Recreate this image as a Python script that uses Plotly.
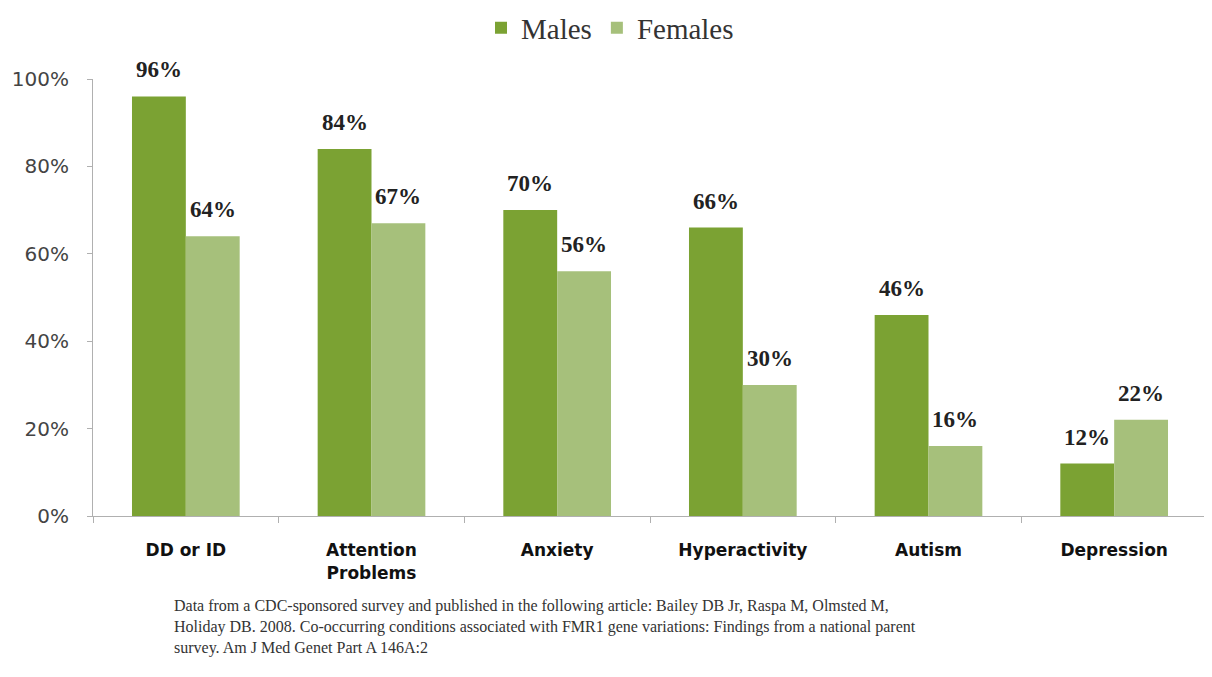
import plotly.graph_objects as go

categories = ["DD or ID", "Attention<br>Problems", "Anxiety", "Hyperactivity", "Autism", "Depression"]
males = [96, 84, 70, 66, 46, 12]
females = [64, 67, 56, 30, 16, 22]
series_names = ["Males", "Females"]
y_ticks = [0, 20, 40, 60, 80, 100]
footnote = ("Data from a CDC-sponsored survey and published in the following article: Bailey DB Jr, Raspa M, Olmsted M,<br>"
            "Holiday DB. 2008. Co-occurring conditions associated with FMR1 gene variations: Findings from a national parent<br>"
            "survey. Am J Med Genet Part A 146A:2")

# page body has an 8px default margin, so the figure is sized/offset accordingly
OFF = 8
W, H = 1212 - OFF, 677 - OFF
ML, MT = 93 - OFF, 79 - OFF
MR = W - (1207 - OFF)
MB = H - (516 - OFF)
BARGAP = 0.42
male_color = "#7ba233"
female_color = "#a6c07b"

plot_w = W - ML - MR
plot_h = H - MT - MB

fig = go.Figure()
fig.add_trace(go.Bar(x=categories, y=males, name=series_names[0],
                     marker=dict(color=male_color, line=dict(width=0))))
fig.add_trace(go.Bar(x=categories, y=females, name=series_names[1],
                     marker=dict(color=female_color, line=dict(width=0))))

# value labels above bars, placed in data coordinates with pixel offsets
cat_w = plot_w / len(categories)
bar_w = cat_w * (1 - BARGAP) / 2
for vals, sign in ((males, -1), (females, 1)):
    for i, v in enumerate(vals):
        fig.add_annotation(
            x=categories[i], y=v, xref="x", yref="y",
            text=f"<b>{v}%</b>", showarrow=False,
            xanchor="center", yanchor="bottom",
            xshift=sign * bar_w / 2, yshift=12,
            font=dict(family="Liberation Serif", size=23, color="#222222"),
        )

fig.update_layout(
    width=W, height=H,
    paper_bgcolor="white", plot_bgcolor="white",
    margin=dict(l=ML, r=MR, t=MT, b=MB, autoexpand=False),
    barmode="group", bargap=BARGAP, bargroupgap=0.0,
    showlegend=True,
    legend=dict(orientation="h", x=(610 - OFF - ML) / plot_w, xanchor="center",
                y=1 + (MT - (28 - OFF)) / plot_h, yanchor="middle", yref="paper",
                font=dict(family="Liberation Serif", size=29, color="#333333"),
                traceorder="normal", itemwidth=30),
    xaxis=dict(
        showline=True, linecolor="#b0b0b0", linewidth=1,
        ticks="outside", tickcolor="#b0b0b0", ticklen=6, tickson="boundaries",
        tickfont=dict(family="DejaVu Sans", size=17, color="#111111"),
        ticklabelstandoff=19,
        showgrid=False,
    ),
    yaxis=dict(
        range=[0, 100], tickvals=y_ticks, ticktext=[f"{v}%" for v in y_ticks],
        showline=True, linecolor="#b0b0b0", linewidth=1,
        ticks="outside", tickcolor="#b0b0b0", ticklen=5,
        tickfont=dict(family="DejaVu Sans", size=20, color="#444444"),
        ticklabelstandoff=14,
        showgrid=False, zeroline=False,
    ),
    font=dict(family="DejaVu Sans"),
)
fig.update_xaxes(tickprefix="<b>", ticksuffix="</b>")

fig.add_annotation(
    text=footnote, xref="paper", yref="paper",
    x=(172 - OFF - ML) / plot_w, y=-(595 - 516) / plot_h,
    xanchor="left", yanchor="top", showarrow=False, align="left",
    font=dict(family="Liberation Serif", size=16, color="#333333"),
)

fig.write_html("out.html")
